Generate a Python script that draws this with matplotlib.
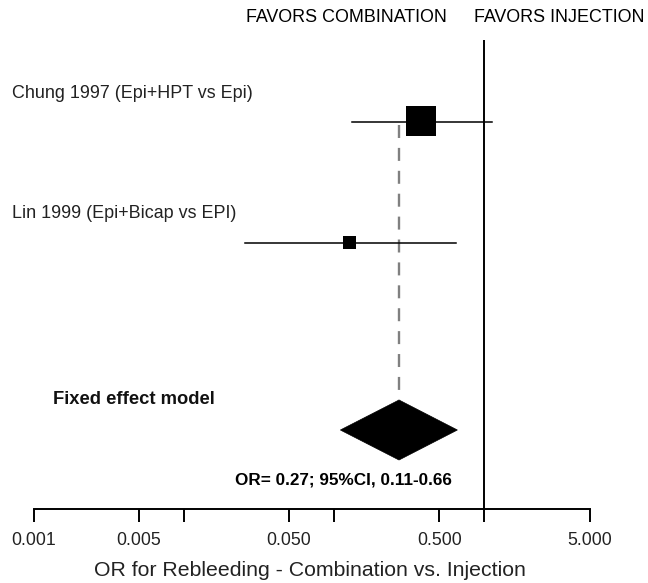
import numpy as np
import matplotlib
matplotlib.use("Agg")
import matplotlib.pyplot as plt
from matplotlib.patches import Polygon
from matplotlib.ticker import NullLocator, FixedLocator, FixedFormatter

plt.rcParams["font.family"] = ["Liberation Sans", "DejaVu Sans"]

# ── data ──────────────────────────────────────────────────────────────────────
studies    = ["Chung 1997 (Epi+HPT vs Epi)", "Lin 1999 (Epi+Bicap vs EPI)"]
study_or   = [0.38, 0.126]
study_lo   = [0.131, 0.0257]
study_hi   = [1.13, 0.646]
study_wt   = [30, 13]          # box size, px

pooled_or, pooled_lo, pooled_hi = 0.27, 0.11, 0.66
pooled_label = "OR= 0.27; 95%CI, 0.11-0.66"

tick_vals   = [0.001, 0.005, 0.01, 0.05, 0.1, 0.5, 1.0, 5.0]
tick_labels = ["0.001", "0.005", "", "0.050", "", "0.500", "", "5.000"]

# ── layout (pixels, y measured from top) ─────────────────────────────────────
W, H = 648, 583
AXIS_Y = 509
X_ONE, PX_DEC = 484.5, 150.33          # pixel of OR=1 and pixels per decade
row_y = [122, 243.5]
pooled_y, pooled_half = 430, 30

fig = plt.figure(figsize=(W / 100, H / 100), dpi=100)
ax = fig.add_axes([0, (H - AXIS_Y) / H, 1, AXIS_Y / H])
ax.set_xscale("log")
ax.set_xlim(10 ** (-X_ONE / PX_DEC), 10 ** ((W - X_ONE) / PX_DEC))
ax.set_ylim(AXIS_Y, 0)

for sp in ("left", "top", "right"):
    ax.spines[sp].set_visible(False)
ax.spines["bottom"].set_bounds(tick_vals[0], tick_vals[-1])
ax.spines["bottom"].set_linewidth(1.4)
ax.yaxis.set_visible(False)
ax.xaxis.set_major_locator(FixedLocator(tick_vals))
ax.xaxis.set_major_formatter(FixedFormatter(tick_labels))
ax.xaxis.set_minor_locator(NullLocator())
ax.tick_params(axis="x", direction="out", length=9.4, width=1.4,
               labelsize=12.7, pad=7, colors="black", labelcolor="#222222")

# line of no effect
ax.plot([1, 1], [40, AXIS_Y], color="black", lw=1.4, solid_capstyle="butt")

# pooled estimate dashed line
ax.plot([pooled_or, pooled_or], [125, pooled_y - pooled_half],
        color="#808080", lw=1.7, dashes=(5.5, 4.2))

# studies
for y, m, lo, hi, w in zip(row_y, study_or, study_lo, study_hi, study_wt):
    ax.plot([lo, hi], [y, y], color="black", lw=1.1)
    ax.plot(m, y - 1, marker="s", ms=w * 0.72, color="black", mew=0)

# diamond
dia = Polygon([[pooled_lo, pooled_y], [pooled_or, pooled_y - pooled_half],
               [pooled_hi, pooled_y], [pooled_or, pooled_y + pooled_half]],
              closed=True, facecolor="black", edgecolor="black", lw=0.5)
ax.add_patch(dia)

# ── text ─────────────────────────────────────────────────────────────────────
def ftext(px, py, s, **kw):
    fig.text(px / W, 1 - py / H, s, va="center", **kw)

ftext(346, 18, "FAVORS COMBINATION", ha="center", fontsize=12.9)
ftext(559.5, 18, "FAVORS INJECTION", ha="center", fontsize=12.9)
for y, name in zip([93, 214], studies):
    ftext(12, y, name, ha="left", fontsize=12.9, color="#222222")
ftext(53, 400, "Fixed effect model", ha="left", fontsize=13.2, fontweight="bold",
      color="#111111")
ftext(343, 480, pooled_label, ha="center", fontsize=12.3, fontweight="bold")
ftext(310, 570, "OR for Rebleeding - Combination vs. Injection", ha="center",
      fontsize=15.3, color="#222222")

fig.savefig("out.png", dpi=100)
